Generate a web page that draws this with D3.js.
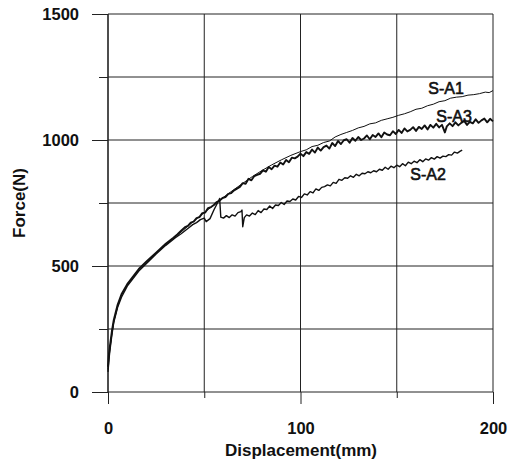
<!DOCTYPE html>
<html>
<head>
<meta charset="utf-8">
<script src="https://cdn.jsdelivr.net/npm/d3@7"></script>
<style>
  html, body { margin: 0; padding: 0; background: #fff; }
  svg { display: block; }
  text { font-family: "Liberation Sans", Arial, sans-serif; fill: #111; }
</style>
</head>
<body>
<svg id="chart" width="516" height="459"></svg>
<script>
// ---- data (Displacement mm, Force N) ----
const xTicks = [0, 100, 200];
const xMinorTicks = [50, 150];
const yTicks = [0, 500, 1000, 1500];
const yMinorTicks = [250, 750, 1250];

const sa1 = [[0,90],[0.5,140],[1,175],[2,232],[3,280],[5,340],[7,386],[10,426],[13,456],[16,486],[20,516],[25,551],[30,586],[35,616],[40,648],[45,681],[50,712],[55,742],[60,773],[65,801],[70,828],[75,855],[80,879],[85,901],[90,921],[95,939],[100,954],[103,961],[106,974],[109,979],[112,990],[115,996],[118,1012],[121,1022],[124,1030],[127,1038],[130,1048],[133,1054],[136,1064],[139,1068],[142,1078],[145,1084],[148,1090],[151,1098],[154,1104],[157,1112],[160,1122],[163,1126],[166,1136],[169,1142],[172,1152],[175,1156],[178,1166],[181,1170],[184,1172],[187,1178],[190,1180],[193,1184],[196,1190],[198,1188],[200,1196]];

const sa2 = [[0,80],[0.5,130],[1,165],[2,226],[3,276],[5,336],[7,376],[10,420],[13,450],[16,480],[20,510],[25,548],[30,582],[35,612],[38,628],[40,640],[42,652],[44,664],[46,672],[48,684],[50,690],[51,676],[53,688],[55,722],[57,752],[58,768],[58.6,694],[60,690],[61.5,700],[63,692],[64.5,703],[66,698],[67.5,712],[69,716],[69.6,722],[70,656],[70.8,692],[72,703],[73.5,698],[75,710],[76.5,704],[78,720],[79.5,712],[81,726],[82.5,724],[84,738],[85.5,728],[87,742],[88.5,740],[90,752],[91.5,744],[93,758],[94.5,756],[96,766],[97.5,762],[99,776],[100.5,772],[102,786],[103.5,782],[105,795],[106.5,790],[108,806],[109.5,800],[111,812],[112.5,815],[114,822],[115.5,818],[117,832],[118.5,828],[120,844],[121.5,840],[123,850],[124.5,848],[126,858],[127.5,852],[129,864],[130.5,858],[132,868],[133.5,866],[135,874],[136.5,870],[138,878],[139.5,874],[141,884],[142.5,880],[144,892],[145.5,884],[147,896],[148.5,890],[150,900],[151.5,894],[153,906],[154.5,898],[156,912],[157.5,906],[159,916],[160.5,910],[162,922],[163.5,914],[165,925],[166.5,920],[168,930],[169.5,924],[171,934],[172.5,928],[174,936],[175.5,934],[177,942],[178.5,940],[180,952],[181.5,948],[183,956],[184,960]];

const sa3 = [[0,100],[0.5,150],[1,182],[2,240],[3,286],[5,346],[7,388],[10,428],[13,458],[16,488],[20,518],[25,553],[30,588],[32,600],[34,612],[36,625],[38,640],[40,654],[41.5,659],[43,672],[44.5,676],[46,690],[47.5,694],[49,710],[50.5,712],[52,730],[53.5,734],[55,742],[56.5,754],[58,760],[59.5,770],[61,773],[62.5,786],[64,789],[65.5,800],[67,807],[68.5,814],[70,829],[71.5,826],[73,846],[74.5,840],[76,857],[77.5,862],[79,866],[80.5,879],[82,874],[83.5,893],[85,884],[86.5,898],[88,894],[89.5,911],[91,903],[92.5,921],[94,912],[95.5,930],[97,927],[98.5,934],[100,946],[101.5,936],[103,952],[104.5,945],[106,962],[107.5,950],[109,970],[110.5,958],[112,972],[113.5,978],[115,966],[116.5,988],[118,976],[119.5,996],[121,984],[122.5,999],[124,1003],[125.5,989],[127,1008],[128.5,997],[130,1012],[131.5,1000],[133,1006],[134.5,1018],[136,1003],[137.5,1020],[139,1012],[140.5,1026],[142,1011],[143.5,1030],[145,1022],[146.5,1019],[148,1035],[149.5,1024],[151,1040],[152.5,1028],[154,1046],[155.5,1034],[157,1040],[158.5,1051],[160,1036],[161.5,1052],[163,1044],[164.5,1058],[166,1042],[167.5,1060],[169,1049],[170.5,1064],[172,1050],[173.5,1060],[175,1030],[176,1054],[177.5,1066],[179,1055],[180.5,1070],[182,1058],[183.5,1068],[185,1076],[186.5,1060],[188,1072],[189.5,1066],[191,1082],[192.5,1068],[194,1078],[195.5,1085],[197,1070],[198.5,1084],[200,1074]];

const seriesNames = ["S-A1", "S-A2", "S-A3"];
const seriesData = [sa1, sa2, sa3];
const seriesWidths = [1, 1.4, 1.9];
const labelPos = [[446, 94], [428, 180], [454, 122]];

// ---- chart ----
const svg = d3.select("#chart");
const x = d3.scaleLinear().domain([0, 200]).range([108, 493]);
const y = d3.scaleLinear().domain([0, 1500]).range([392, 14]);
const lineColor = "#222";

// grid lines
const g = svg.append("g");
g.selectAll("line.hgrid").data(yTicks.concat(yMinorTicks)).join("line")
  .attr("x1", x(0)).attr("x2", x(200))
  .attr("y1", d => y(d)).attr("y2", d => y(d))
  .attr("stroke", lineColor).attr("stroke-width", 1);
g.selectAll("line.vgrid").data(xTicks.concat(xMinorTicks)).join("line")
  .attr("x1", d => x(d)).attr("x2", d => x(d))
  .attr("y1", y(1500)).attr("y2", y(0))
  .attr("stroke", lineColor).attr("stroke-width", 1);

// axes
const yAxis = svg.append("g").attr("transform", `translate(${x(0)},0)`)
  .call(d3.axisLeft(y).tickValues(yTicks).tickSize(16).tickPadding(13).tickFormat(d3.format("d")));
const yAxisMinor = svg.append("g").attr("transform", `translate(${x(0)},0)`)
  .call(d3.axisLeft(y).tickValues(yMinorTicks).tickSize(9).tickFormat(""));
const xAxis = svg.append("g").attr("transform", `translate(0,${y(0)})`)
  .call(d3.axisBottom(x).tickValues(xTicks).tickSize(12).tickPadding(18).tickFormat(d3.format("d")));
const xAxisMinor = svg.append("g").attr("transform", `translate(0,${y(0)})`)
  .call(d3.axisBottom(x).tickValues(xMinorTicks).tickSize(6).tickFormat(""));

[yAxis, yAxisMinor, xAxis, xAxisMinor].forEach(a => {
  a.select(".domain").remove();
  a.selectAll(".tick line").attr("stroke", lineColor).attr("stroke-width", 1);
  a.selectAll(".tick text")
    .style("font-family", '"Liberation Sans", Arial, sans-serif')
    .style("font-size", "16.5px").style("font-weight", "bold").attr("fill", "#111");
});
// left axis line
svg.append("line").attr("x1", x(0)).attr("x2", x(0)).attr("y1", y(1500)).attr("y2", y(0))
  .attr("stroke", lineColor).attr("stroke-width", 1.2);

// series
const line = d3.line().x(d => x(d[0])).y(d => y(d[1]));
svg.selectAll("path.series").data(seriesData).join("path")
  .attr("class", "series")
  .attr("d", line)
  .attr("fill", "none")
  .attr("stroke", "#111")
  .attr("stroke-width", (d, i) => seriesWidths[i])
  .attr("stroke-linejoin", "round");

// series labels
svg.selectAll("text.lbl").data(seriesNames).join("text")
  .attr("class", "lbl")
  .attr("x", (d, i) => labelPos[i][0]).attr("y", (d, i) => labelPos[i][1])
  .attr("text-anchor", "middle")
  .style("font-size", "16px")
  .style("font-weight", "normal")
  .attr("stroke", "#111").attr("stroke-width", 0.6)
  .text(d => d);

// axis titles
svg.append("text").attr("x", 301).attr("y", 456).attr("text-anchor", "middle")
  .style("font-size", "17px").style("font-weight", "bold").text("Displacement(mm)");
svg.append("text").attr("transform", "translate(25,203) rotate(-90)").attr("text-anchor", "middle")
  .style("font-size", "17px").style("font-weight", "bold").text("Force(N)");
</script>
</body>
</html>
